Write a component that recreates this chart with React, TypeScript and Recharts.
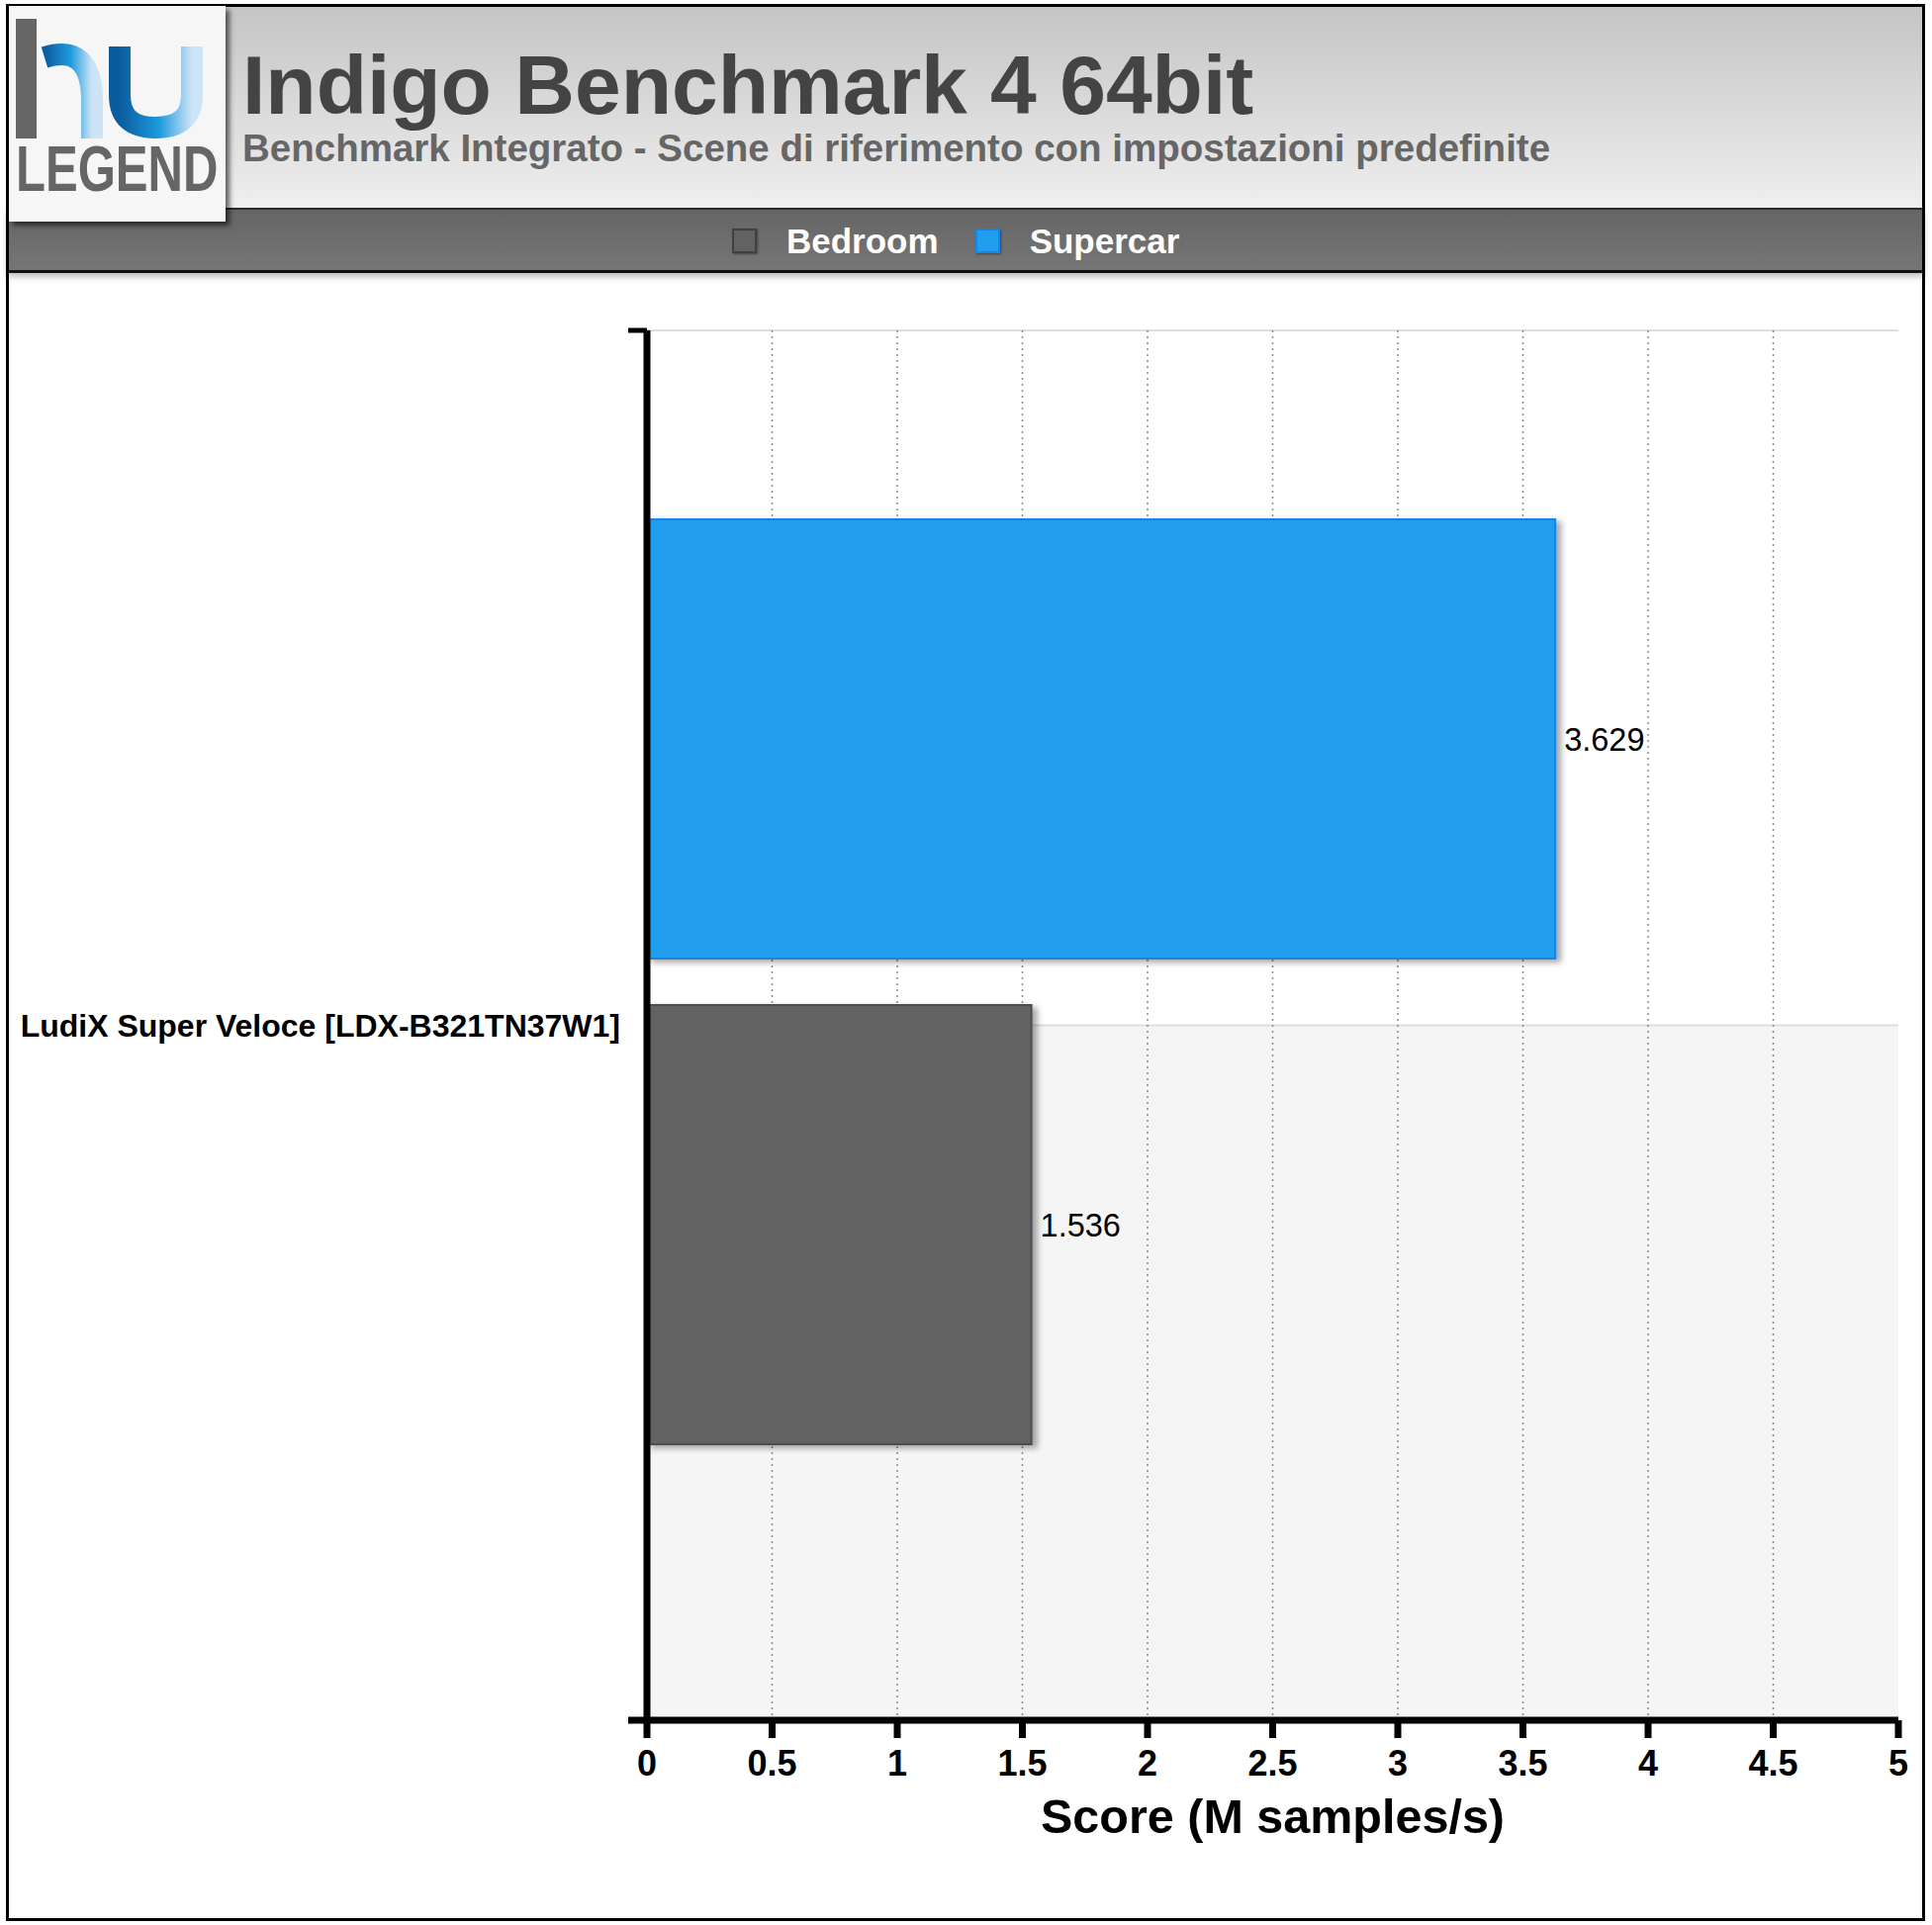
import * as R from "recharts";
import { BarChart, Bar, XAxis, YAxis, CartesianGrid, LabelList, Label } from "recharts";

// chart data
const categories = ["LudiX Super Veloce [LDX-B321TN37W1]"];
const bedroomScores = [1.536];
const supercarScores = [3.629];
const xTicks = [0, 0.5, 1, 1.5, 2, 2.5, 3, 3.5, 4, 4.5, 5];
const legendNames = ["Bedroom", "Supercar"];

const COLORS: Record<string, { fill: string; stroke: string }> = {
  Bedroom: { fill: "#626262", stroke: "#4d4d4d" },
  Supercar: { fill: "#219dee", stroke: "#1784e6" },
};

const FONT = "'Liberation Sans', Arial, Helvetica, sans-serif";

const data = categories.map((name, i) => ({
  name,
  Bedroom: bedroomScores[i],
  Supercar: supercarScores[i],
}));

// bar with a soft shadow to the right
const shadowBar = (key: string) => (props: any) => {
  const { x, y, width, height } = props;
  if (!width || !height) return null;
  return (
    <rect
      x={x}
      y={y}
      width={width}
      height={height}
      fill={COLORS[key].fill}
      stroke={COLORS[key].stroke}
      strokeWidth={2}
      style={{ filter: "drop-shadow(5px 3px 3px rgba(0,0,0,0.35))" }}
    />
  );
};

// little caps that stick out left of the plot, like the original axes
function AxisCaps() {
  const usePlotArea = (R as any).usePlotArea;
  const area = usePlotArea ? usePlotArea() : null;
  if (!area) return null;
  return (
    <g>
      <line x1={area.x - 19} x2={area.x} y1={area.y} y2={area.y} stroke="#000" strokeWidth={5} />
      <line
        x1={area.x - 19}
        x2={area.x}
        y1={area.y + area.height}
        y2={area.y + area.height}
        stroke="#000"
        strokeWidth={7}
      />
    </g>
  );
}

function Logo() {
  return (
    <div
      style={{
        position: "absolute",
        left: 9,
        top: 6,
        width: 219,
        height: 218,
        background: "#f6f6f6",
        boxShadow: "4px 4px 5px rgba(0,0,0,0.6)",
        zIndex: 5,
      }}
    >
      <svg width={219} height={218}>
        <defs>
          <linearGradient id="logoBlue" x1="0" y1="0" x2="1" y2="0">
            <stop offset="0%" stopColor="#0a5c9e" />
            <stop offset="55%" stopColor="#1d9ade" />
            <stop offset="100%" stopColor="#cde4f7" />
          </linearGradient>
        </defs>
        <rect x={7} y={13} width={21} height={121} fill="#666" />
        <path
          d="M 36 52 Q 82 38 84 92 L 84 134"
          stroke="url(#logoBlue)"
          strokeWidth={22}
          fill="none"
        />
        <path
          d="M 112 41 L 112 90 Q 112 123 148 123 Q 185 123 185 90 L 185 41"
          stroke="url(#logoBlue)"
          strokeWidth={22}
          fill="none"
        />
        <text
          x={7}
          y={187}
          fontFamily={FONT}
          fontWeight="bold"
          fontSize={65}
          fill="#666"
          transform="translate(7 0) scale(0.755 1) translate(-7 0)"
        >
          LEGEND
        </text>
      </svg>
    </div>
  );
}

export default function App() {
  return (
    <div
      style={{
        position: "absolute",
        left: 0,
        top: 0,
        width: 1953,
        height: 1946,
        background: "#fff",
        fontFamily: FONT,
        overflow: "hidden",
      }}
    >
      {/* header */}
      <div
        style={{
          position: "absolute",
          left: 7,
          top: 5,
          width: 1938,
          height: 207,
          background: "linear-gradient(#c4c4c4, #efefef)",
          borderBottom: "2px solid #2a2a2a",
          boxSizing: "border-box",
        }}
      />
      <div
        style={{
          position: "absolute",
          left: 245,
          top: 44,
          fontSize: 84,
          lineHeight: 1,
          fontWeight: "bold",
          color: "#444",
          whiteSpace: "nowrap",
        }}
      >
        Indigo Benchmark 4 64bit
      </div>
      <div
        style={{
          position: "absolute",
          left: 245,
          top: 131,
          fontSize: 38.5,
          lineHeight: 1,
          fontWeight: "bold",
          color: "#666",
          whiteSpace: "nowrap",
        }}
      >
        Benchmark Integrato - Scene di riferimento con impostazioni predefinite
      </div>

      {/* legend band */}
      <div
        style={{
          position: "absolute",
          left: 7,
          top: 212,
          width: 1938,
          height: 64,
          background: "linear-gradient(#656565, #767676)",
          borderBottom: "3px solid #111",
          boxSizing: "border-box",
          boxShadow: "0 4px 6px rgba(0,0,0,0.25)",
          zIndex: 2,
        }}
      >
        <div
          style={{
            position: "absolute",
            left: 733,
            top: 1,
            height: 61,
            display: "flex",
            alignItems: "center",
          }}
        >
          {legendNames.map((name, i) => (
            <div
              key={name}
              style={{ display: "flex", alignItems: "center", marginLeft: i === 0 ? 0 : 37 }}
            >
              <div
                style={{
                  width: 21,
                  height: 21,
                  background: COLORS[name].fill,
                  border: `2px solid ${i === 0 ? "#404040" : COLORS[name].stroke}`,
                  boxShadow: "1px 1px 2px rgba(0,0,0,0.4)",
                }}
              />
              <span
                style={{
                  marginLeft: 30,
                  fontSize: 35,
                  fontWeight: "bold",
                  color: "#fff",
                }}
              >
                {name}
              </span>
            </div>
          ))}
        </div>
      </div>

      {/* chart */}
      <div style={{ position: "absolute", left: 0, top: 276, width: 1953, height: 1663 }}>
        <BarChart
          width={1953}
          height={1663}
          data={data}
          layout="vertical"
          barGap={47}
          margin={{ top: 58, right: 34, left: 0, bottom: 80 }}
        >
          <CartesianGrid
            yAxisId="cat"
            vertical={false}
            horizontalFill={["#ffffff", "#f5f5f5"]}
            stroke="#dedede"
            strokeWidth={2}
          />
          <CartesianGrid
            yAxisId="cat"
            horizontal={false}
            verticalValues={xTicks.slice(1, -1)}
            stroke="#8a8a8a"
            strokeDasharray="2 4"
            strokeWidth={1.5}
          />

          <XAxis
            type="number"
            domain={[0, 5]}
            ticks={xTicks}
            interval={0}
            axisLine={{ stroke: "#000", strokeWidth: 7 }}
            tickLine={{ stroke: "#000", strokeWidth: 7 }}
            tickSize={18}
            tickMargin={12}
            tick={{ fill: "#000", fontSize: 36, fontWeight: "bold", fontFamily: FONT }}
            height={120}
          >
            <Label
              value="Score (M samples/s)"
              position="insideBottom"
              offset={6}
              style={{ fill: "#000", fontSize: 48.5, fontWeight: "bold", fontFamily: FONT }}
            />
          </XAxis>

          <YAxis
            yAxisId="cat"
            type="category"
            dataKey="name"
            width={654}
            axisLine={{ stroke: "#000", strokeWidth: 7 }}
            tickLine={false}
            tickSize={0}
            tickMargin={27}
            tick={{ fill: "#000", fontSize: 32, fontWeight: "bold", fontFamily: FONT }}
          />
          <YAxis
            yAxisId="bars"
            type="category"
            dataKey="name"
            hide
            width={0}
            padding={{ top: 0, bottom: 88 }}
          />

          <Bar
            yAxisId="bars"
            dataKey="Supercar"
            barSize={444}
            fill={COLORS.Supercar.fill}
            shape={shadowBar("Supercar")}
            isAnimationActive={false}
          >
            <LabelList
              dataKey="Supercar"
              position="right"
              offset={9}
              fill="#000"
              fontSize={32.5}
              fontFamily={FONT}
            />
          </Bar>
          <Bar
            yAxisId="bars"
            dataKey="Bedroom"
            barSize={444}
            fill={COLORS.Bedroom.fill}
            shape={shadowBar("Bedroom")}
            isAnimationActive={false}
          >
            <LabelList
              dataKey="Bedroom"
              position="right"
              offset={9}
              fill="#000"
              fontSize={32.5}
              fontFamily={FONT}
            />
          </Bar>
          <AxisCaps />
        </BarChart>
      </div>

      {/* outer frame */}
      <div
        style={{
          position: "absolute",
          left: 6,
          top: 4,
          width: 1940,
          height: 1938,
          border: "3px solid #000",
          boxSizing: "border-box",
          pointerEvents: "none",
          zIndex: 4,
        }}
      />
      <Logo />
    </div>
  );
}
